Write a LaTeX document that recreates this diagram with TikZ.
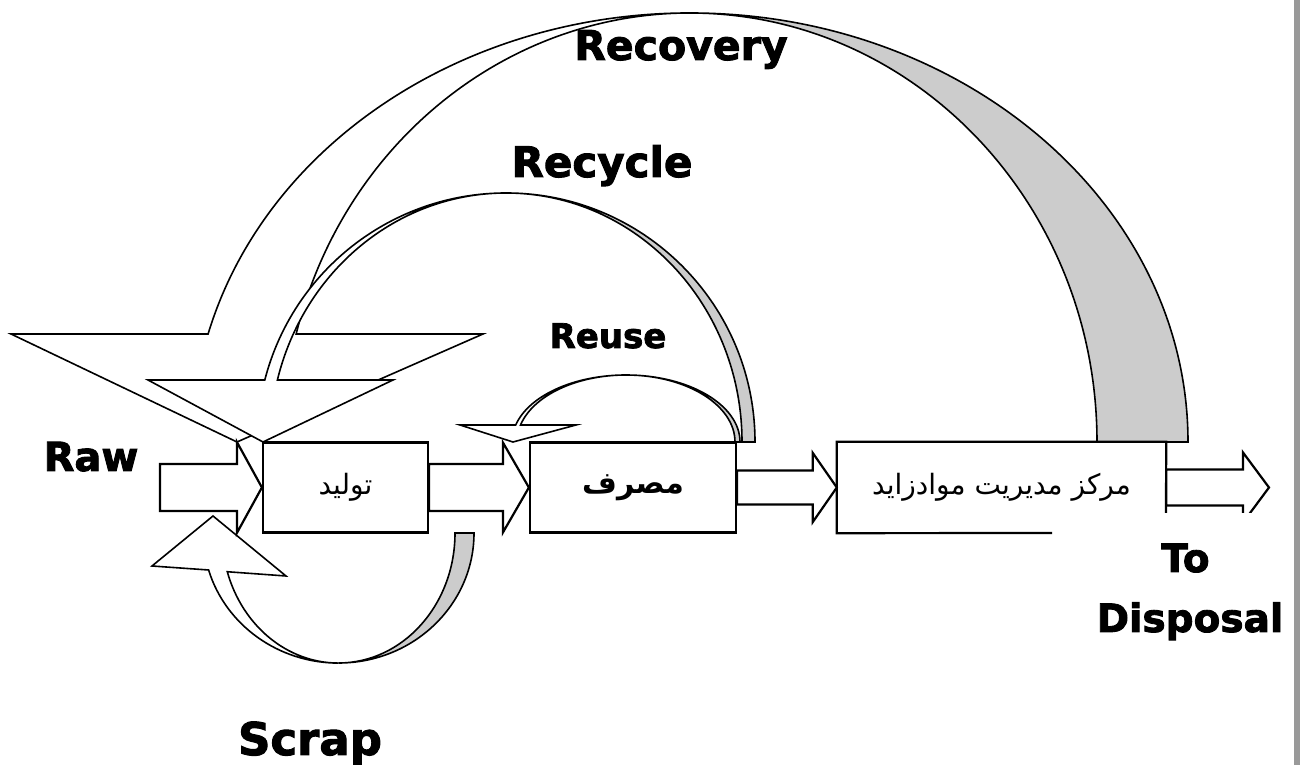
\documentclass[tikz,border=0pt]{standalone}
\usepackage{fontspec}
\usepackage{tikz}
\TeXXeTstate=1
\newfontfamily\lblfont[BoldFeatures={FakeBold=2.2}]{DejaVu Sans}
\newfontfamily\fafont[Script=Arabic]{DejaVu Sans}
\definecolor{ribbongray}{HTML}{CCCCCC}
\definecolor{bargray}{HTML}{999999}

% block arrow: tail, tip, shaft half, head half, head length
\newcommand{\blockarrow}[5]{%
  \draw[outline, fill=white] ([yshift=#3]#1) -- ([xshift=-#5,yshift=#3]#2) -- ([xshift=-#5,yshift=#4]#2)
    -- (#2) -- ([xshift=-#5,yshift=-#4]#2) -- ([xshift=-#5,yshift=-#3]#2) -- ([yshift=-#3]#1) -- cycle;}

\tikzset{
  outline/.style={draw=black, line width=2.2pt, line join=miter},
  ribbonfront/.style={draw=black, line width=1.6pt, fill=white},
  ribbonback/.style={draw=black, line width=1.6pt, fill=ribbongray},
  flowbox/.style={outline, fill=white, minimum height=90pt, inner sep=0pt},
  lbl/.style={inner sep=0pt, anchor=base, font=\lblfont\bfseries\fontsize{#1}{#1}\selectfont},
  fatext/.style={font=\fafont\fontsize{#1}{#1}\selectfont},
}

\begin{document}
\begin{tikzpicture}[x=1pt, y=1pt]
  \useasboundingbox (0,0) rectangle (1301,765);
  \fill[bargray] (1294,0) rectangle (1300,765);

  % recovery loop
  \node[lbl=41] (recovery) at (681,705) {Recovery};
  \draw[ribbonback] (690,752) arc[start angle=90, end angle=0, x radius=498pt, y radius=429pt]
    -- (1097,323) arc[start angle=0, end angle=90, x radius=407pt, y radius=429pt] -- cycle;
  \draw[ribbonfront] (11,431) -- (208.1,431)
    arc[start angle=165.42, end angle=90, x radius=498pt, y radius=429pt]
    arc[start angle=90, end angle=165.42, x radius=407pt, y radius=429pt]
    -- (483,431) -- (237,323) -- cycle;

  % recycle loop
  \node[lbl=42] (recycle) at (602,588) {Recycle};
  \draw[ribbonback] (506,572) arc[start angle=90, end angle=0, x radius=249pt, y radius=249pt]
    -- (742,323) arc[start angle=0, end angle=90, x radius=236pt, y radius=249pt] -- cycle;
  \draw[ribbonfront] (148,385) -- (264.8,385)
    arc[start angle=165.58, end angle=90, x radius=249pt, y radius=249pt]
    arc[start angle=90, end angle=165.58, x radius=236pt, y radius=249pt]
    -- (393,385) -- (263,323) -- cycle;

  % reuse loop
  \node[lbl=34] (reuse) at (608,417) {Reuse};
  \draw[ribbonback] (626,390) arc[start angle=90, end angle=0, x radius=114pt, y radius=67pt]
    -- (735,323) arc[start angle=0, end angle=90, x radius=109pt, y radius=67pt] -- cycle;
  \draw[ribbonfront] (460,340) -- (515.7,340)
    arc[start angle=165.3, end angle=90, x radius=114pt, y radius=67pt]
    arc[start angle=90, end angle=165.3, x radius=109pt, y radius=67pt]
    -- (576,340) -- (513,323) -- cycle;

  % scrap loop
  \draw[ribbonback] (338.5,102) arc[start angle=270, end angle=360, x radius=135.5pt, y radius=130pt]
    -- (455,232) arc[start angle=360, end angle=270, x radius=116.5pt, y radius=130pt] -- cycle;
  \draw[ribbonfront] (152,199) -- (208.6,195)
    arc[start angle=196.5, end angle=270, x radius=135.5pt, y radius=130pt]
    arc[start angle=270, end angle=197.3, x radius=116.5pt, y radius=130pt]
    -- (286,189) -- (213,249) -- cycle;
  \node[lbl=45] (scrap) at (310,10) {Scrap};

  % main line
  \coordinate (rawin) at (160,277.5);
  \coordinate (out) at (1269,277.5);
  \node[flowbox, minimum width=165pt, fatext=28] (prod) at (345.5,277.5) {\beginR تولید\endR};
  \node[flowbox, minimum width=206pt, fatext=30] (cons) at (633,277.5) {\bfseries\beginR مصرف\endR};
  \node[minimum width=329pt, minimum height=91pt, inner sep=0pt, fatext=28] (mgmt) at (1001.5,277.5)
    {\beginR مرکز مدیریت موادزاید\endR};
  \draw[outline] (1052,232) -- (mgmt.south west) -- (mgmt.north west) -- (mgmt.north east) -- (1166,252);

  \blockarrow{rawin}{prod.west}{23.5pt}{45.5pt}{25pt}
  \blockarrow{prod.east}{cons.west}{23.5pt}{45pt}{26pt}
  \blockarrow{cons.east}{mgmt.west}{17pt}{34.5pt}{24pt}
  \begin{scope}
    \clip (1150,252) rectangle (1290,330);
    \blockarrow{mgmt.east}{out}{18pt}{35pt}{26pt}
  \end{scope}

  \node[lbl=40] (raw) at (91,294) {Raw};
  \node[lbl=39] (to) at (1185.5,193) {To};
  \node[lbl=39] (disposal) at (1190,133) {Disposal};
\end{tikzpicture}
\end{document}
